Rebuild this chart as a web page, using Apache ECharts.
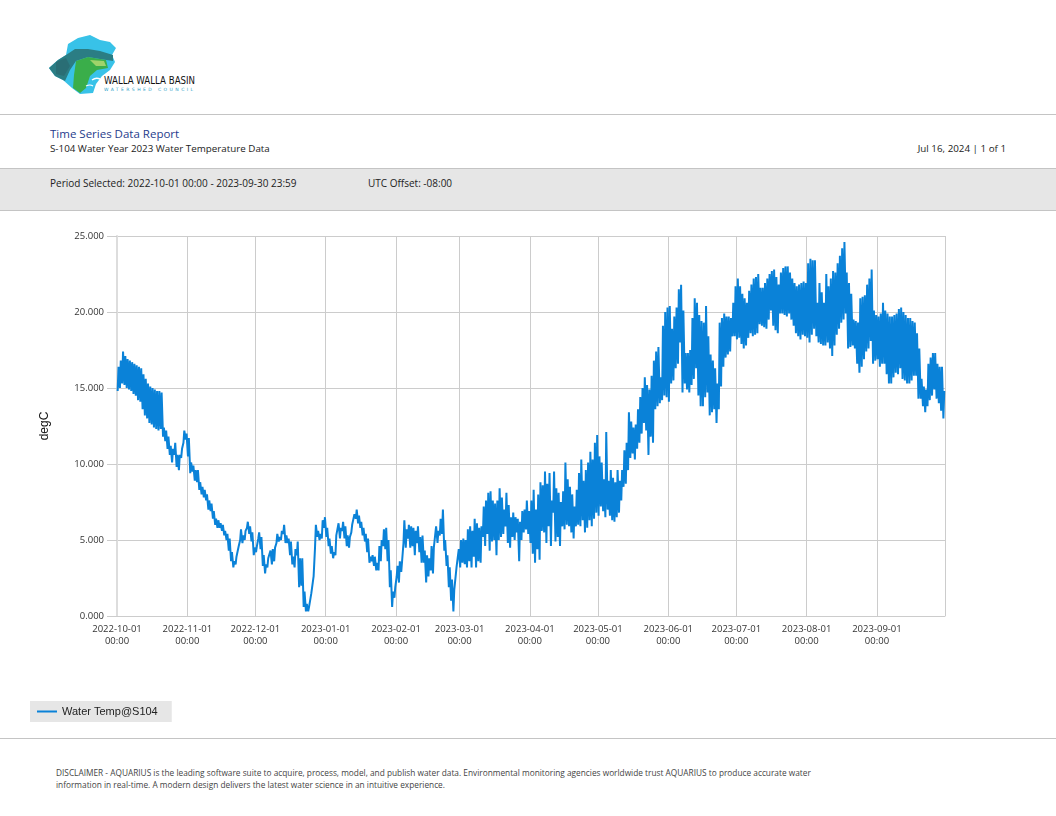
<!DOCTYPE html>
<html>
<head>
<meta charset="utf-8">
<script src="https://cdn.jsdelivr.net/npm/echarts@6/dist/echarts.min.js"></script>
<style>
  html, body { margin: 0; padding: 0; background: #fff; }
  body { width: 1056px; height: 816px; position: relative; overflow: hidden; font-family: "Open Sans", "Noto Sans", sans-serif; color: #333; }
  .abs { position: absolute; white-space: nowrap; }
  .hline { position: absolute; left: 0; width: 1056px; height: 0; border-top: 1px solid #c4c4c4; }
  #band { position: absolute; left: 0; top: 168px; width: 1056px; height: 41px; background: #e6e6e6; border-top: 1px solid #c4c4c4; border-bottom: 1px solid #c4c4c4; }
  #chart { position: absolute; left: 0; top: 215px; width: 1056px; height: 520px; }
</style>
</head>
<body>
<svg class="abs" style="left:0;top:0" width="220" height="110" viewBox="0 0 220 110">
  <polygon points="68,44 78,38 90,35 100,40 110,42 116,48 112,55 115,62 110,70 102,76 96,84 93,93 80,94 72,88 63,80 55,76 49,68 58,60 66,55" fill="#38c2e8"/>
  <polygon points="66,55 75,49 88,49 100,51 113,55 113,61 100,59 88,57 76,61 70,70 65,81 55,76 49,68 58,60" fill="#2b7d84"/>
  <polygon points="76,61 88,57 106,60 108,68 97,70 90,76 86,88 80,93 73,88 74,75" fill="#3aae4a"/>
  <polygon points="56,62 66,58 70,66 64,76 56,74" fill="#2a6e75"/>
  <polygon points="90,60 104,61 106,66 96,66" fill="#9fd36a"/>
  <path d="M92,80 q4,-3 8,-1" stroke="#fff" stroke-width="1.5" fill="none"/>
  <path d="M86,86 q4,-2 7,0" stroke="#fff" stroke-width="1.2" fill="none"/>
  <text x="104" y="84" font-family="DejaVu Sans Condensed, DejaVu Sans" font-size="10.5" fill="#111" textLength="91" lengthAdjust="spacingAndGlyphs">WALLA WALLA BASIN</text>
  <text x="104" y="91" font-family="DejaVu Sans" font-size="4.5" fill="#2aa0c8" textLength="89" lengthAdjust="spacing">WATERSHED COUNCIL</text>
</svg>

<div class="hline" style="top:114px"></div>
<div class="abs" style="left:50px;top:126px;font-size:11.5px;color:#1f3c8c;">Time Series Data Report</div>
<div class="abs" style="left:50px;top:142px;font-size:9.8px;color:#222;">S-104 Water Year 2023 Water Temperature Data</div>
<div class="abs" style="right:50px;top:142px;font-size:9.8px;color:#222;">Jul 16, 2024 | 1 of 1</div>
<div id="band"></div>
<div class="abs" style="left:50px;top:176px;font-size:10px;color:#222;">Period Selected: 2022-10-01 00:00 - 2023-09-30 23:59</div>
<div class="abs" style="left:368px;top:176px;font-size:10px;color:#222;">UTC Offset: -08:00</div>
<div id="chart"></div>
<div class="hline" style="top:738px"></div>
<div class="abs" style="left:56px;top:767px;font-size:8.3px;line-height:12px;color:#444;">DISCLAIMER - AQUARIUS is the leading software suite to acquire, process, model, and publish water data. Environmental monitoring agencies worldwide trust AQUARIUS to produce accurate water<br>information in real-time. A modern design delivers the latest water science in an intuitive experience.</div>

<script>
// Daily readings of Water Temp@S104, starting 2022-10-01 (one value per day)
const dailyMax = [
16.4,16.8,17.4,17.1,16.9,16.8,16.7,16.6,16.5,16.4,
16.3,15.9,15.6,15.3,15.1,15.0,14.9,14.8,14.8,14.7,
12.4,12.2,11.8,11.2,11.0,11.4,10.6,10.6,11.0,12.2,12.0,
11.7,10.1,9.9,9.6,9.6,8.8,8.5,8.3,8.0,7.6,
7.4,6.9,6.4,6.3,6.1,6.0,5.6,5.4,5.1,4.2,
3.6,3.9,4.6,5.7,5.3,5.6,6.2,5.9,5.5,4.5,
4.6,5.5,5.2,4.0,3.4,3.8,4.3,4.4,4.5,5.4,
5.2,5.6,6.0,5.3,5.1,4.9,3.9,4.4,4.9,3.8,
3.8,1.6,0.8,0.6,1.5,2.6,6.0,5.6,5.4,6.3,6.5,
5.8,5.1,4.6,4.2,5.3,6.1,5.8,6.2,5.9,5.3,
5.2,6.0,6.7,7.0,6.6,6.2,5.8,5.4,5.1,3.9,
4.0,3.9,3.5,4.6,5.0,5.7,5.8,5.0,3.0,1.6,1.9,
3.3,3.6,3.6,6.3,5.7,6.0,5.9,5.8,5.6,5.9,
5.2,5.3,4.3,4.0,3.8,4.6,4.5,5.9,5.6,6.4,
7.0,5.0,4.0,3.2,2.4,1.7,3.2,4.4,
5.0,5.1,5.0,5.7,5.9,5.6,6.4,6.1,5.8,5.9,
7.2,7.6,8.1,8.2,7.6,7.4,7.6,8.4,7.8,7.0,
8.1,7.3,6.5,6.8,6.5,6.4,6.2,6.9,7.0,7.6,6.9,
7.6,8.3,7.0,8.0,8.8,8.6,9.5,8.7,9.4,7.6,
9.5,8.4,8.1,7.5,8.2,10.1,9.0,8.5,8.0,7.2,
8.3,9.4,10.3,8.9,9.6,10.1,10.8,10.3,11.4,11.9,
10.5,10.1,9.0,12.1,8.9,9.6,9.1,8.8,9.6,8.9,
9.6,10.9,11.4,13.4,12.8,12.4,12.6,13.6,14.4,15.0,
15.7,15.2,14.9,15.8,16.8,17.4,17.7,15.7,19.1,20.0,20.3,
20.4,18.9,19.7,20.3,21.5,21.8,20.1,17.3,17.3,17.5,
19.6,20.9,20.6,19.8,19.4,19.3,20.4,18.4,17.2,16.8,
16.3,15.3,19.3,19.6,19.9,19.7,19.7,19.6,20.6,21.7,
22.2,21.7,21.2,20.9,20.6,21.4,21.8,22.2,22.3,22.5,
21.6,21.6,21.9,22.2,22.5,22.7,22.8,22.3,21.8,22.6,
22.9,23.0,23.0,22.6,22.2,21.9,21.7,21.8,21.9,22.0,21.9,
23.2,23.5,23.4,23.4,20.6,21.9,21.3,20.6,22.5,21.7,
22.2,22.7,22.6,23.2,23.7,24.2,24.6,22.6,21.9,21.2,
19.5,19.4,19.3,20.9,21.0,21.1,21.8,22.2,22.8,20.1,19.8,
19.7,19.9,20.6,20.1,19.9,19.7,19.7,19.8,19.9,20.2,
20.3,20.0,19.8,19.6,19.6,19.4,19.3,18.6,17.6,15.6,
15.1,14.9,16.6,17.0,17.3,17.3,16.6,16.4,16.4,14.8
];
const dailyMin = [
14.8,15.0,15.3,15.2,15.0,14.9,14.8,14.6,14.5,14.2,
14.1,13.6,13.2,13.0,12.7,12.6,12.4,12.3,12.2,12.3,
11.8,11.5,11.0,10.6,10.1,10.6,9.8,9.6,10.4,11.4,11.6,
10.5,9.4,9.5,8.9,8.8,8.3,8.0,7.8,7.6,7.0,
6.9,6.4,6.0,5.8,5.8,5.6,5.3,5.0,4.3,3.6,
3.2,3.4,3.9,5.0,4.8,5.0,5.8,5.4,4.9,4.0,
4.2,5.1,4.4,3.3,2.8,3.2,3.7,3.4,3.6,4.8,
4.9,5.0,5.4,4.8,4.8,4.0,3.4,3.2,4.0,1.9,
2.0,0.6,0.3,0.3,0.6,2.2,4.5,5.2,5.0,5.1,5.8,
5.2,4.6,4.1,3.8,4.0,5.2,5.1,5.6,5.1,4.6,
4.5,5.5,6.1,6.4,6.1,5.8,5.3,4.9,4.2,3.5,
3.6,3.3,3.0,3.0,3.6,4.6,4.4,3.6,1.9,0.6,1.2,
2.6,2.2,2.9,4.8,4.5,5.1,4.5,4.6,4.0,4.8,
4.2,3.5,3.5,2.2,2.6,3.0,2.8,4.6,4.8,5.3,
5.4,4.3,3.3,1.9,1.0,0.3,1.8,3.3,
3.2,3.5,3.4,3.2,3.6,3.2,3.9,3.2,3.6,3.5,
5.2,4.6,5.4,4.3,4.9,5.0,4.0,5.0,5.2,5.4,
5.9,4.8,4.5,5.2,5.0,5.5,3.6,5.0,5.5,5.7,5.4,
4.8,4.1,3.5,4.4,3.7,5.6,5.5,4.8,5.9,4.6,
6.8,4.9,5.2,4.6,5.9,5.7,6.0,5.9,5.5,5.1,
5.9,6.0,5.9,6.3,5.5,5.8,6.3,5.9,6.4,6.8,
6.6,7.2,6.9,6.5,7.0,6.6,6.3,6.2,6.5,6.8,
7.6,8.5,8.7,9.6,10.4,10.7,10.3,11.0,11.4,12.0,
12.7,12.2,10.6,11.8,11.4,13.6,13.8,14.0,14.2,14.5,14.4,
14.1,15.3,15.5,16.3,16.6,18.0,14.7,15.3,14.9,14.7,
15.2,15.6,16.3,14.5,13.8,13.8,14.4,14.7,13.2,13.4,
13.6,12.7,13.6,15.1,16.4,17.0,17.2,17.4,18.4,18.4,
18.2,18.3,17.9,17.6,17.8,18.3,18.6,18.4,18.5,18.6,
19.2,19.1,19.0,18.9,19.5,20.1,19.1,18.8,18.6,19.9,
19.9,19.8,19.7,19.9,19.5,19.1,18.6,18.4,18.2,18.5,18.4,
18.3,18.0,18.5,18.9,18.4,18.0,17.9,17.8,17.8,18.0,
17.6,17.1,17.8,18.5,18.9,19.3,19.5,19.9,17.6,17.7,
17.8,17.6,16.6,16.0,16.4,16.9,17.4,17.6,18.1,16.6,16.8,
16.9,16.4,16.6,16.6,15.9,15.3,15.3,15.7,16.0,15.9,
16.3,15.6,15.5,15.3,15.3,15.5,15.8,15.8,14.3,14.3,
13.8,13.4,13.8,14.2,14.5,14.9,14.3,14.0,13.5,13.0
];
const seriesName = 'Water Temp@S104';
const yTicks = { min: 0, max: 25, interval: 5 };
const periodStart = Date.UTC(2022, 9, 1, 0, 0);
const periodEnd = Date.UTC(2023, 8, 30, 23, 59);

const HOUR = 3600 * 1000, DAY = 24 * HOUR;
const points = [];
for (let i = 0; i < dailyMin.length; i++) {
  const d0 = periodStart + i * DAY;
  points.push([d0 + 7 * HOUR, dailyMin[i]]);   // morning low
  points.push([d0 + 16 * HOUR, dailyMax[i]]);  // afternoon high
}

const pad = n => String(n).padStart(2, '0');
const fmtTime = v => {
  const d = new Date(v);
  return d.getUTCFullYear() + '-' + pad(d.getUTCMonth() + 1) + '-' + pad(d.getUTCDate()) +
    '\n' + pad(d.getUTCHours()) + ':' + pad(d.getUTCMinutes());
};

const chart = echarts.init(document.getElementById('chart'));
chart.setOption({
  animation: false,
  useUTC: true,
  textStyle: { fontFamily: 'Open Sans' },
  grid: { left: 117, right: 111, top: 21, bottom: 119, containLabel: false },
  legend: {
    left: 30, top: 486,
    padding: [4, 14, 4, 7],
    backgroundColor: '#e6e6e6',
    icon: 'rect',
    itemWidth: 20, itemHeight: 2, itemGap: 5,
    textStyle: { fontFamily: 'Liberation Sans', fontSize: 11, color: '#222', lineHeight: 13 },
    data: [seriesName]
  },
  xAxis: {
    type: 'time',
    min: periodStart,
    max: periodEnd,
    splitNumber: 12,
    minInterval: 28 * DAY,
    maxInterval: 31 * DAY,
    axisLine: { show: true, lineStyle: { color: '#cccccc', width: 1 } },
    axisTick: { show: false },
    splitLine: { show: true, lineStyle: { color: '#cccccc', width: 1 } },
    axisLabel: {
      formatter: fmtTime,
      color: '#333', fontSize: 9.5, lineHeight: 12, margin: 7,
      showMinLabel: true, showMaxLabel: false, hideOverlap: false
    }
  },
  yAxis: {
    type: 'value',
    min: yTicks.min, max: yTicks.max, interval: yTicks.interval,
    name: 'degC',
    nameLocation: 'middle',
    nameGap: 66,
    nameRotate: 90,
    nameTextStyle: { fontFamily: 'Liberation Sans', fontSize: 12, color: '#111' },
    axisLine: { show: true, lineStyle: { color: '#dddddd', width: 2 } },
    axisTick: { show: true, length: 10, lineStyle: { color: '#cccccc' } },
    splitLine: { show: true, lineStyle: { color: '#cccccc', width: 1 } },
    axisLabel: { formatter: v => v.toFixed(3), color: '#333', fontSize: 9.5, margin: 13 }
  },
  series: [{
    name: seriesName,
    type: 'line',
    data: points,
    symbol: 'none',
    showSymbol: false,
    sampling: null,
    lineStyle: { color: '#0a82d8', width: 2 },
    itemStyle: { color: '#0a82d8' }
  }]
});
</script>
</body>
</html>
